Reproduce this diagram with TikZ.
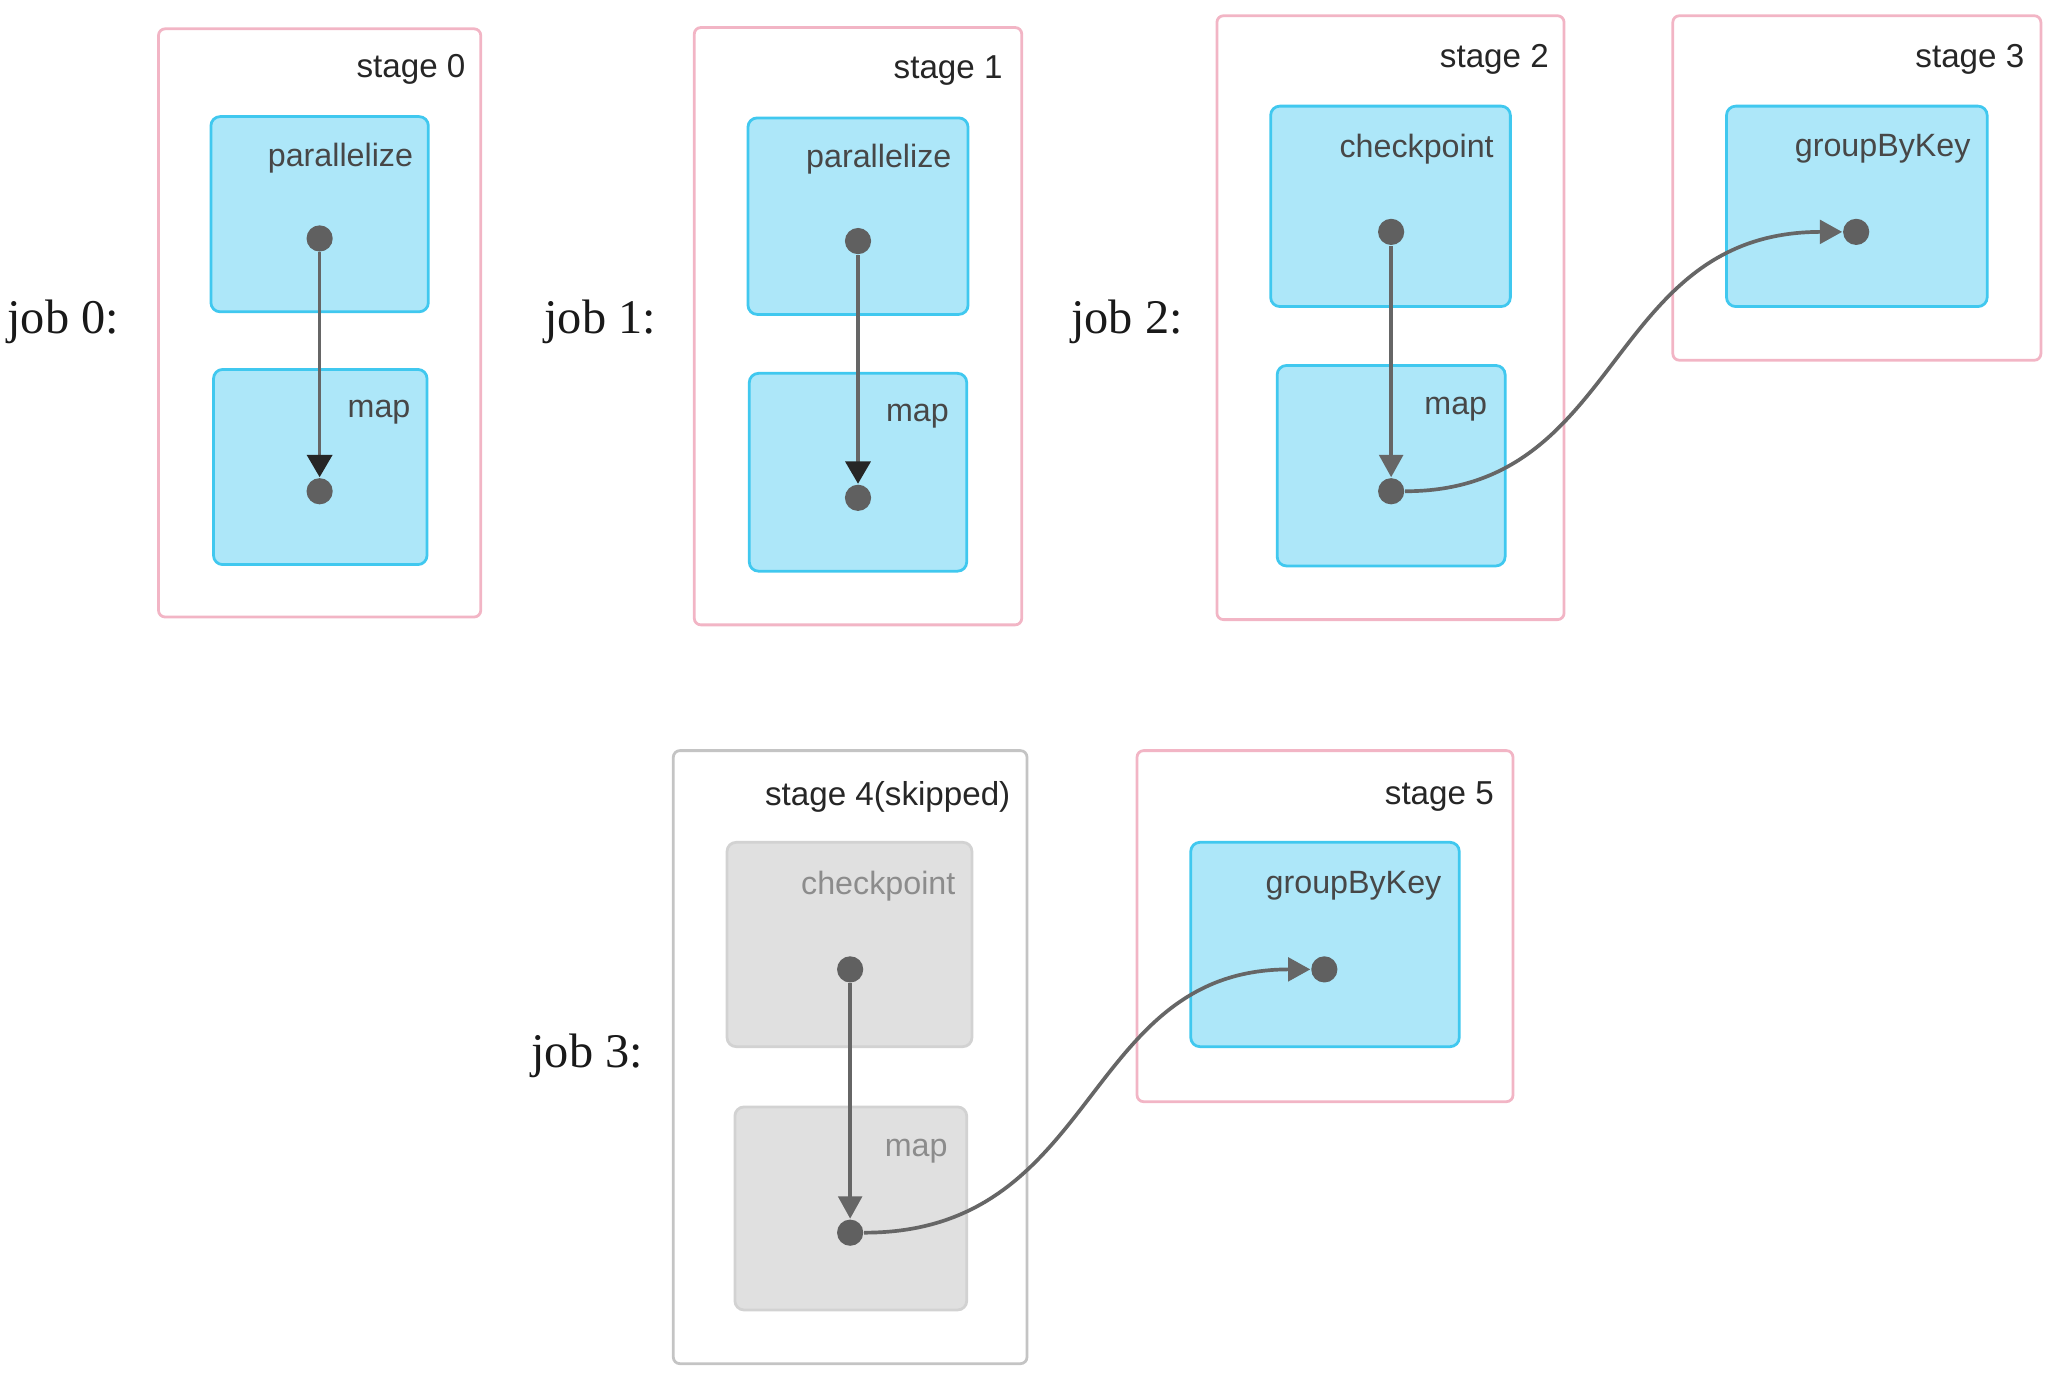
\documentclass[tikz,border=0pt]{standalone}
\usepackage{fontspec}
\setmainfont{Liberation Sans}
\newfontfamily\jobfont{Liberation Serif}
\usetikzlibrary{fit,arrows.meta}
\definecolor{stageborder}{HTML}{F2B5C5}
\definecolor{skipborder}{HTML}{C4C4C4}
\definecolor{opfill}{HTML}{ADE7F9}
\definecolor{opborder}{HTML}{40C8EF}
\definecolor{skipfill}{HTML}{E0E0E0}
\definecolor{skipopborder}{HTML}{D2D2D2}
\definecolor{dotcol}{HTML}{606060}
\definecolor{linecol}{HTML}{666666}
\tikzset{
  stagebox/.style={draw=stageborder, line width=0.6pt, rounded corners=0.05cm, inner sep=0pt, fill=white},
  skipstage/.style={draw=skipborder, line width=0.6pt, rounded corners=0.05cm, inner sep=0pt, fill=white},
  opbox/.style={draw=opborder, fill=opfill, line width=0.6pt, rounded corners=0.07cm, inner sep=0pt},
  skipop/.style={draw=skipopborder, fill=skipfill, line width=0.6pt, rounded corners=0.07cm, inner sep=0pt},
  stagelabel/.style={anchor=east, inner sep=0pt, yshift=-0.03cm, text=black!85, font=\fontsize{7.2}{8}\selectfont},
  oplabel/.style={anchor=east, inner sep=0pt, yshift=-0.025cm, text=black!72, font=\fontsize{7}{8}\selectfont},
  skiplabel/.style={anchor=east, inner sep=0pt, yshift=-0.025cm, text=black!45, font=\fontsize{7}{8}\selectfont},
  joblabel/.style={anchor=west, inner sep=0pt, yshift=-0.03cm, text=black!90, font=\jobfont\fontsize{10.5}{12}\selectfont},
  dot/.style={circle, fill=dotcol, minimum size=0.2cm, inner sep=0pt},
  flow/.style={draw=linecol, line width=0.8pt, -{Triangle[length=0.17cm,width=0.18cm]}},
  flowblack/.style={draw=linecol, line width=0.8pt, -{Triangle[length=0.17cm,width=0.19cm,color=black!85]}},
}
\begin{document}
\begin{tikzpicture}[x=0.01cm, y=-0.01cm]
\useasboundingbox (0,0) rectangle (1568,1053);

% job labels
\node[joblabel] (j0) at (5,243) {job 0:};
\node[joblabel] (j1) at (415,243) {job 1:};
\node[joblabel] (j2) at (817,243) {job 2:};
\node[joblabel] (j3) at (405,803) {job 3:};

% stage 0
\node[stagebox, fit={(121,22) (367,471)}] (s0) {};
\node[stagelabel] (s0l) at (356,50) {stage 0};
\node[opbox, fit={(161,89) (327,238)}] (o0a) {};
\node[oplabel] (o0al) at (316,118) {parallelize};
\node[opbox, fit={(163,282) (326,431)}] (o0b) {};
\node[oplabel] (o0bl) at (314,312) {map};
\node[dot] (d0a) at (244,182) {};
\node[dot] (d0b) at (244,375) {};
\draw[flowblack] (d0a) -- (d0b);

% stage 1
\node[stagebox, fit={(530,21) (780,477)}] (s1) {};
\node[stagelabel] (s1l) at (766,51) {stage 1};
\node[opbox, fit={(571,90) (739,240)}] (o1a) {};
\node[oplabel] (o1al) at (727,119) {parallelize};
\node[opbox, fit={(572,285) (738,436)}] (o1b) {};
\node[oplabel] (o1bl) at (725,315) {map};
\node[dot] (d1a) at (655,184) {};
\node[dot] (d1b) at (655,380) {};
\draw[flowblack] (d1a) -- (d1b);

% stage 2
\node[stagebox, fit={(929,12) (1194,473)}] (s2) {};
\node[stagelabel] (s2l) at (1183,42) {stage 2};
\node[opbox, fit={(970,81) (1153,234)}] (o2a) {};
\node[oplabel] (o2al) at (1141,111) {checkpoint};
\node[opbox, fit={(975,279) (1149,432)}] (o2b) {};
\node[oplabel] (o2bl) at (1136,310) {map};

% stage 3
\node[stagebox, fit={(1277,12) (1558,275)}] (s3) {};
\node[stagelabel] (s3l) at (1546,42) {stage 3};
\node[opbox, fit={(1318,81) (1517,234)}] (o3) {};
\node[oplabel] (o3l) at (1505,111) {groupByKey};

\node[dot] (d2a) at (1062,177) {};
\node[dot] (d2b) at (1062,375) {};
\node[dot] (d3) at (1417,177) {};
\draw[flow] (d2a) -- (d2b);
\draw[flow] (d2b) .. controls (1240,375) and (1225,177) .. (d3);

% stage 4 (skipped)
\node[skipstage, fit={(514,573) (784,1041)}] (s4) {};
\node[stagelabel] (s4l) at (772,605) {stage 4(skipped)};
\node[skipop, fit={(555,643) (742,799)}] (o4a) {};
\node[skiplabel] (o4al) at (730,674) {checkpoint};
\node[skipop, fit={(561,845) (738,1000)}] (o4b) {};
\node[skiplabel] (o4bl) at (724,876) {map};

% stage 5
\node[stagebox, fit={(868,573) (1155,841)}] (s5) {};
\node[stagelabel] (s5l) at (1141,605) {stage 5};
\node[opbox, fit={(909,643) (1114,799)}] (o5) {};
\node[oplabel] (o5l) at (1101,674) {groupByKey};

\node[dot] (d4a) at (649,740) {};
\node[dot] (d4b) at (649,941) {};
\node[dot] (d5) at (1011,740) {};
\draw[flow] (d4a) -- (d4b);
\draw[flow] (d4b) .. controls (840,941) and (825,740) .. (d5);
\end{tikzpicture}
\end{document}
